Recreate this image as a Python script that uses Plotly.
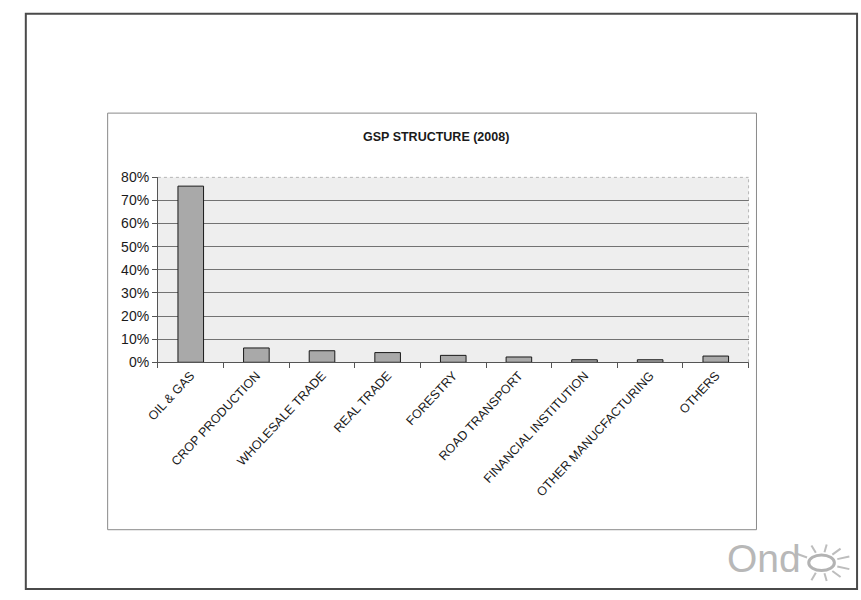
import plotly.graph_objects as go
import math

# GSP structure by sector, 2008 (share of total)
sectors = [
    "OIL & GAS",
    "CROP PRODUCTION",
    "WHOLESALE TRADE",
    "REAL TRADE",
    "FORESTRY",
    "ROAD TRANSPORT",
    "FINANCIAL INSTITUTION",
    "OTHER MANUCFACTURING",
    "OTHERS",
]
shares = [0.762, 0.062, 0.050, 0.042, 0.030, 0.023, 0.011, 0.011, 0.027]
y_ticks = [0, 0.1, 0.2, 0.3, 0.4, 0.5, 0.6, 0.7, 0.8]
y_tick_labels = ["0%", "10%", "20%", "30%", "40%", "50%", "60%", "70%", "80%"]

W, H = 861, 600


def px(x):
    return x / W


def py(y):
    return 1 - y / H


fig = go.Figure(
    go.Bar(
        x=sectors,
        y=shares,
        marker=dict(color="#a9a9a9", line=dict(color="#1a1a1a", width=1)),
        hoverinfo="x+y",
    )
)

font_main = "Liberation Sans, Arial, sans-serif"

fig.update_layout(
    width=W,
    height=H,
    autosize=False,
    margin=dict(l=0, r=0, t=0, b=0),
    paper_bgcolor="white",
    plot_bgcolor="#eeeeee",
    showlegend=False,
    bargap=0.61,
    font=dict(family=font_main, color="#1a1a1a"),
    xaxis=dict(
        domain=[px(148), px(747)],
        tickangle=-47,
        tickfont=dict(size=12.5, color="#1a1a1a"),
        showline=True,
        linecolor="#555555",
        linewidth=1,
        ticks="outside",
        tickson="boundaries",
        ticklen=5,
        tickcolor="#555555",
        showgrid=False,
        fixedrange=True,
    ),
    yaxis=dict(
        domain=[py(364), py(174)],
        range=[0, 0.8],
        tickvals=y_ticks,
        ticktext=y_tick_labels,
        tickfont=dict(size=14, color="#1a1a1a"),
        showline=True,
        linecolor="#555555",
        linewidth=1,
        ticks="outside",
        ticklen=5,
        tickcolor="#555555",
        showgrid=True,
        gridcolor="#727272",
        gridwidth=1,
        zeroline=False,
        fixedrange=True,
    ),
)

shapes = []
# outer slide frame
shapes.append(dict(type="rect", xref="paper", yref="paper",
                   x0=px(14), x1=px(857), y0=py(597), y1=py(6),
                   line=dict(color="#4a4a4a", width=2)))
# chart frame
shapes.append(dict(type="rect", xref="paper", yref="paper",
                   x0=px(97), x1=px(755), y0=py(536), y1=py(108),
                   line=dict(color="#8a8a8a", width=1)))
# light dotted border around plot area (top / right)
shapes.append(dict(type="line", xref="paper", yref="paper",
                   x0=px(148), x1=px(747), y0=py(174), y1=py(174),
                   line=dict(color="#b5b5b5", width=1, dash="dot")))
shapes.append(dict(type="line", xref="paper", yref="paper",
                   x0=px(747), x1=px(747), y0=py(364), y1=py(174),
                   line=dict(color="#b5b5b5", width=1, dash="dot")))

# logo: sun-shaped "o"
cx, cy = 821, 570
shapes.append(dict(type="circle", xref="paper", yref="paper",
                   x0=px(cx - 13), x1=px(cx + 13), y0=py(cy + 8), y1=py(cy - 8),
                   line=dict(color="#b3b3b3", width=3)))
for ang in [20, 50, 80, 110, 150, -20, -50, -80, -110]:
    a = math.radians(ang)
    r0x, r0y = 17, 11
    r1x, r1y = 30, 19
    shapes.append(dict(type="line", xref="paper", yref="paper",
                       x0=px(cx + r0x * math.cos(a)), y0=py(cy - r0y * math.sin(a)),
                       x1=px(cx + r1x * math.cos(a)), y1=py(cy - r1y * math.sin(a)),
                       line=dict(color="#bdbdbd", width=2)))

fig.update_layout(shapes=shapes)

fig.add_annotation(
    text="<b>GSP STRUCTURE (2008)</b>",
    xref="paper", yref="paper",
    x=px(430), y=py(133),
    xanchor="center", yanchor="middle",
    showarrow=False,
    font=dict(size=12.5, color="#1a1a1a", family=font_main),
)
fig.add_annotation(
    text="Ond",
    xref="paper", yref="paper",
    x=px(802), y=py(566),
    xanchor="right", yanchor="middle",
    showarrow=False,
    font=dict(size=39, color="#b8b8b8", family=font_main),
)

# page body without default margins so the figure sits at the window origin
fig.write_html(
    "out.html",
    post_script="document.body.style.margin='0';document.body.style.overflow='hidden';",
)
